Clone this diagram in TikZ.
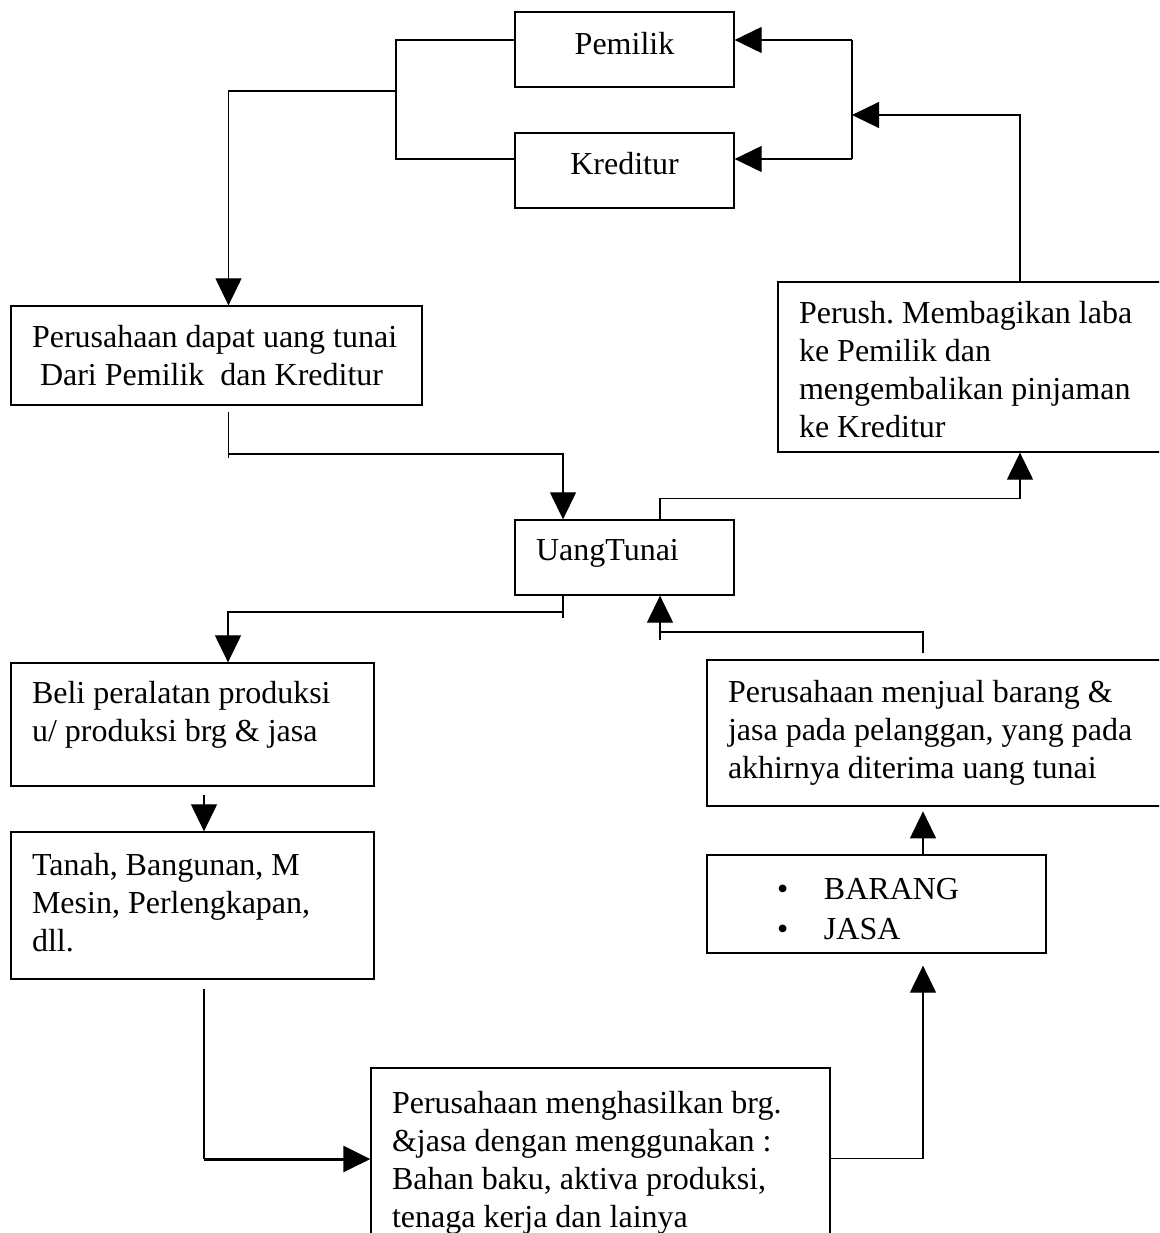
\documentclass[tikz,border=0pt]{standalone}
\usepackage{fontspec}
\setmainfont{Liberation Serif}
\usetikzlibrary{arrows.meta}
\frenchspacing
\newcommand{\boxlines}[1]{\begin{tabular}{@{}l@{}}#1\end{tabular}}

\begin{document}
\begin{tikzpicture}[x=1pt, y=-1pt, every node/.style={font=\fontsize{32}{38}\selectfont}, box/.style={draw, line width=1.3pt, inner xsep=21pt, inner ysep=0pt, align=flush left}, line/.style={line width=1.2pt}, arr/.style={line width=1.2pt, -{Triangle[length=27pt,width=26pt]}}]
  \useasboundingbox (0,0) rectangle (1159,1233);
  \clip (0,0) rectangle (1159,1233);
  \node[box, minimum width=219pt, minimum height=75pt, align=center, text depth=13pt](pemilik) at (624.5,49.5) {Pemilik};
  \node[box, minimum width=219pt, minimum height=75pt, align=center, text depth=15pt](kreditur) at (624.5,170.5) {Kreditur};
  \node[box, text width=369pt, minimum height=99pt](dapat) at (216.5,355.5) {\boxlines{Perusahaan dapat uang tunai\\\hspace*{8pt}Dari Pemilik\ \ dan Kreditur}\par\kern-6pt};
  \node[box, text width=177pt, minimum height=75pt](uang) at (624.5,557.5) {\boxlines{UangTunai}\par\kern10pt};
  \node[box, text width=350pt, minimum height=170pt](perush) at (974,367) {\boxlines{Perush. Membagikan laba\\ke Pemilik dan\\mengembalikan pinjaman\\ke Kreditur}\par\kern-11pt};
  \node[box, text width=321pt, minimum height=123pt](beli) at (192.5,724.5) {\boxlines{Beli peralatan produksi\\u/ produksi brg \& jasa}\par\kern20pt};
  \node[box, text width=321pt, minimum height=147pt](tanah) at (192.5,905.5) {\boxlines{Tanah, Bangunan, M\\Mesin, Perlengkapan,\\dll.}};
  \node[box, text width=421pt, minimum height=146pt](jual) at (938.5,733) {\boxlines{Perusahaan menjual barang \&\\jasa pada pelanggan, yang pada\\akhirnya diterima uang tunai}};
  \node[box, text width=297pt, minimum height=98pt](barang) at (876.5,904) {\boxlines{\hspace*{49pt}\makebox[47pt][l]{\textbullet}BARANG\\[2pt]\hspace*{49pt}\makebox[47pt][l]{\textbullet}JASA}\par\kern-15pt};
  \node[box, text width=417pt, minimum height=181pt](hasil) at (600.5,1158.5) {\boxlines{Perusahaan menghasilkan brg.\\\&jasa dengan menggunakan :\\Bahan baku, aktiva produksi,\\tenaga kerja dan lainya}\par\kern-8pt};

  \coordinate (lt) at (396,40);
  \coordinate (lb) at (396,91);
  \coordinate (ld) at (396,159);
  \coordinate (rt) at (852,40);
  \coordinate (rb) at (852,115);
  \coordinate (rd) at (852,159);
  \draw[line] (lt -| pemilik.west) -- (lt) -- (ld) -- (ld -| kreditur.west);
  \draw[arr] (lb) -| ([xshift=12pt]dapat.north);
  \draw[line] (rt) -- (rd);
  \draw[arr] (rt) -- (rt -| pemilik.east);
  \draw[arr] (rd) -- (rd -| kreditur.east);
  \draw[arr] ([xshift=46pt]perush.north) |- (rb);

  \coordinate (d1) at (228.5,412);
  \coordinate (d2) at (228.5,454);
  \draw[line] (d1) -- ++(0,46);
  \draw[arr] (d2) -| ([xshift=-61.5pt]uang.north);
  \draw[arr] ([xshift=35.5pt]uang.north) -- ++(0,-21) -| ([xshift=46pt]perush.south);

  \coordinate (b1) at (563,612);
  \draw[line] ([xshift=-61.5pt]uang.south) -- ++(0,22);
  \draw[arr] (b1) -| ([xshift=35.5pt]beli.north);
  \draw[arr] ([xshift=11.5pt,yshift=-8pt]beli.south) -- ([xshift=11.5pt]tanah.north);

  \coordinate (t2) at (204,1159);
  \draw[line] ([xshift=11.5pt,yshift=-9pt]tanah.south) -- (t2);
  \draw[arr, line width=3pt] (t2) -- (t2 -| hasil.west);
  \draw[arr] (hasil.east) -| ([xshift=46.5pt,yshift=-12pt]barang.south);
  \draw[arr] ([xshift=46.5pt]barang.north) -- ++(0,-43);

  \coordinate (j1) at (660,632);
  \draw[line] ([xshift=-15.5pt,yshift=6pt]jual.north) |- (j1) -- ++(0,8);
  \draw[arr] (j1) -- ([xshift=35.5pt]uang.south);
\end{tikzpicture}
\end{document}
